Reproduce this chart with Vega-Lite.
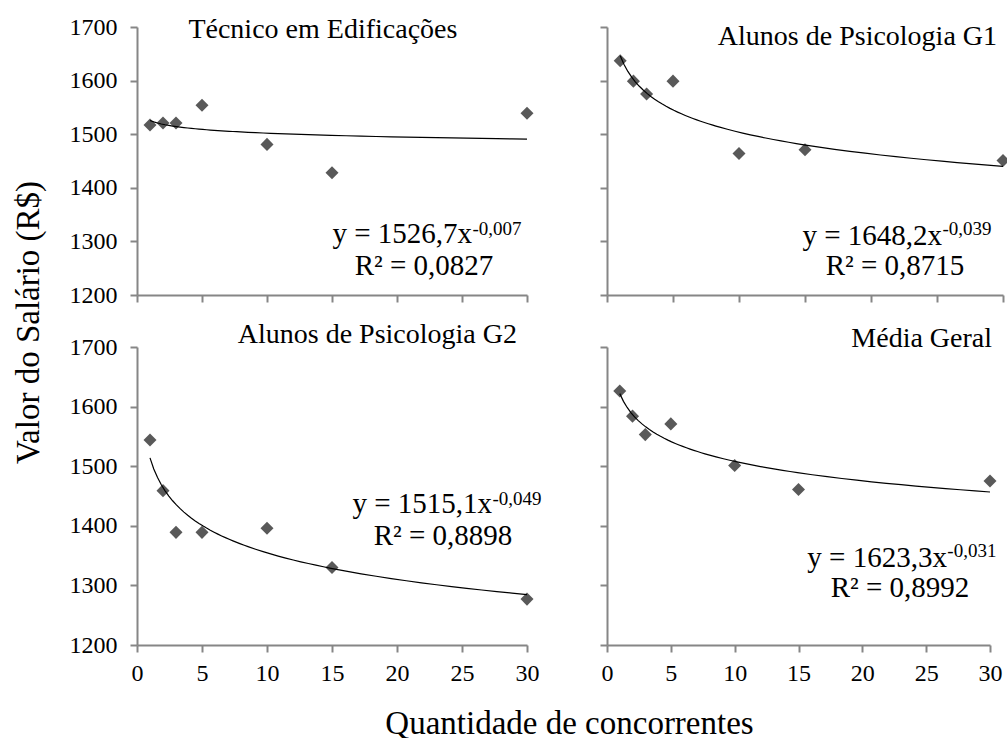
{
  "$schema": "https://vega.github.io/schema/vega-lite/v6.json",
  "background": "white",
  "padding": {"left": 12, "top": 15, "right": 0, "bottom": 0},
  "columns": 2,
  "align": "each",
  "bounds": "flush",
  "spacing": {"row": 52, "column": 80},
  "datasets": {
    "salarios": [
      {"grupo": "TE", "concorrentes": 1, "salario": 1517},
      {"grupo": "TE", "concorrentes": 2, "salario": 1521},
      {"grupo": "TE", "concorrentes": 3, "salario": 1521},
      {"grupo": "TE", "concorrentes": 5, "salario": 1554},
      {"grupo": "TE", "concorrentes": 10, "salario": 1481},
      {"grupo": "TE", "concorrentes": 15, "salario": 1428},
      {"grupo": "TE", "concorrentes": 30, "salario": 1539},
      {"grupo": "G1", "concorrentes": 1, "salario": 1637},
      {"grupo": "G1", "concorrentes": 2, "salario": 1599},
      {"grupo": "G1", "concorrentes": 3, "salario": 1575},
      {"grupo": "G1", "concorrentes": 5, "salario": 1599},
      {"grupo": "G1", "concorrentes": 10, "salario": 1464},
      {"grupo": "G1", "concorrentes": 15, "salario": 1471},
      {"grupo": "G1", "concorrentes": 30, "salario": 1451},
      {"grupo": "G2", "concorrentes": 1, "salario": 1544},
      {"grupo": "G2", "concorrentes": 2, "salario": 1459},
      {"grupo": "G2", "concorrentes": 3, "salario": 1389},
      {"grupo": "G2", "concorrentes": 5, "salario": 1389},
      {"grupo": "G2", "concorrentes": 10, "salario": 1396},
      {"grupo": "G2", "concorrentes": 15, "salario": 1330},
      {"grupo": "G2", "concorrentes": 30, "salario": 1277},
      {"grupo": "MG", "concorrentes": 1, "salario": 1626},
      {"grupo": "MG", "concorrentes": 2, "salario": 1584},
      {"grupo": "MG", "concorrentes": 3, "salario": 1553},
      {"grupo": "MG", "concorrentes": 5, "salario": 1571},
      {"grupo": "MG", "concorrentes": 10, "salario": 1501},
      {"grupo": "MG", "concorrentes": 15, "salario": 1461},
      {"grupo": "MG", "concorrentes": 30, "salario": 1475}
    ]
  },
  "config": {
    "view": {"stroke": null},
    "axis": {
      "grid": false,
      "domainColor": "#868686",
      "domainWidth": 2,
      "tickColor": "#868686",
      "tickWidth": 2,
      "tickSize": 7,
      "labelFont": "Liberation Serif",
      "labelFontSize": 24,
      "labelColor": "#000000",
      "titleFont": "Liberation Serif",
      "titleFontSize": 33,
      "titleFontWeight": "normal",
      "titleColor": "#000000",
      "format": "d"
    },
    "axisX": {"labelPadding": 9, "labelFlush": false},
    "axisY": {"labelPadding": 13},
    "text": {"font": "Liberation Serif", "color": "#000000"}
  },
  "concat": [
    {
      "width": 390,
      "height": 268,
      "layer": [
        {"data": {"name": "salarios"}, "transform": [{"filter": "datum.grupo === 'TE'"}],
         "mark": {"type": "point", "shape": "diamond", "filled": true, "size": 170, "color": "#595959", "opacity": 1},
         "encoding": {
           "x": {"field": "concorrentes", "type": "quantitative", "scale": {"domain": [0, 30], "nice": false},
             "axis": {"values": [0, 5, 10, 15, 20, 25, 30], "labels": false, "title": null}},
           "y": {"field": "salario", "type": "quantitative", "scale": {"domain": [1200, 1700], "nice": false, "zero": false},
             "axis": {"values": [1200, 1300, 1400, 1500, 1600, 1700], "title": "Valor do Salário (R$)",
               "titleX": -109, "titleY": 295, "titleAngle": 270, "titleAlign": "center", "titleBaseline": "middle"}}
         }},
        {"data": {"name": "salarios"}, "transform": [{"filter": "datum.grupo === 'TE'"},
           {"regression": "salario", "on": "concorrentes", "method": "pow", "extent": [1, 30]}],
         "mark": {"type": "line", "color": "#000000", "strokeWidth": 1.2},
         "encoding": {"x": {"field": "concorrentes", "type": "quantitative"}, "y": {"field": "salario", "type": "quantitative"}}},
        {"data": {"values": [{"t": "Técnico em Edificações"}]},
         "mark": {"type": "text", "fontSize": 28, "align": "center", "baseline": "alphabetic"},
         "encoding": {"text": {"field": "t"}, "x": {"datum": 14.3}, "y": {"datum": 1679.5}}},
        {"data": {"values": [{"t": "y = 1526,7x"}]},
         "mark": {"type": "text", "fontSize": 29, "align": "right", "baseline": "alphabetic"},
         "encoding": {"text": {"field": "t"}, "x": {"datum": 25.77}, "y": {"datum": 1297}}},
        {"data": {"values": [{"t": "-0,007"}]},
         "mark": {"type": "text", "fontSize": 19, "align": "left", "baseline": "alphabetic"},
         "encoding": {"text": {"field": "t"}, "x": {"datum": 25.8}, "y": {"datum": 1312}}},
        {"data": {"values": [{"t": "R² = 0,0827"}]},
         "mark": {"type": "text", "fontSize": 29, "align": "center", "baseline": "alphabetic"},
         "encoding": {"text": {"field": "t"}, "x": {"datum": 22.08}, "y": {"datum": 1237.3}}}
      ]
    },
    {
      "width": 396,
      "height": 268,
      "layer": [
        {"data": {"name": "salarios"}, "transform": [{"filter": "datum.grupo === 'G1'"}],
         "mark": {"type": "point", "shape": "diamond", "filled": true, "size": 170, "color": "#595959", "opacity": 1},
         "encoding": {
           "x": {"field": "concorrentes", "type": "quantitative", "scale": {"domain": [0, 30], "nice": false},
             "axis": {"values": [0, 5, 10, 15, 20, 25, 30], "labels": false, "title": null}},
           "y": {"field": "salario", "type": "quantitative", "scale": {"domain": [1200, 1700], "nice": false, "zero": false},
             "axis": {"values": [1200, 1300, 1400, 1500, 1600, 1700], "labels": false, "title": null}}
         }},
        {"data": {"name": "salarios"}, "transform": [{"filter": "datum.grupo === 'G1'"},
           {"regression": "salario", "on": "concorrentes", "method": "pow", "extent": [1, 30]}],
         "mark": {"type": "line", "color": "#000000", "strokeWidth": 1.2},
         "encoding": {"x": {"field": "concorrentes", "type": "quantitative"}, "y": {"field": "salario", "type": "quantitative"}}},
        {"data": {"values": [{"t": "Alunos de Psicologia G1"}]},
         "mark": {"type": "text", "fontSize": 28, "align": "right", "baseline": "alphabetic"},
         "encoding": {"text": {"field": "t"}, "x": {"datum": 29.55}, "y": {"datum": 1666.4}}},
        {"data": {"values": [{"t": "y = 1648,2x"}]},
         "mark": {"type": "text", "fontSize": 29, "align": "right", "baseline": "alphabetic"},
         "encoding": {"text": {"field": "t"}, "x": {"datum": 25.38}, "y": {"datum": 1293.3}}},
        {"data": {"values": [{"t": "-0,039"}]},
         "mark": {"type": "text", "fontSize": 19, "align": "left", "baseline": "alphabetic"},
         "encoding": {"text": {"field": "t"}, "x": {"datum": 25.41}, "y": {"datum": 1312}}},
        {"data": {"values": [{"t": "R² = 0,8715"}]},
         "mark": {"type": "text", "fontSize": 29, "align": "center", "baseline": "alphabetic"},
         "encoding": {"text": {"field": "t"}, "x": {"datum": 21.82}, "y": {"datum": 1237.3}}}
      ]
    },
    {
      "width": 390,
      "height": 298,
      "layer": [
        {"data": {"name": "salarios"}, "transform": [{"filter": "datum.grupo === 'G2'"}],
         "mark": {"type": "point", "shape": "diamond", "filled": true, "size": 170, "color": "#595959", "opacity": 1},
         "encoding": {
           "x": {"field": "concorrentes", "type": "quantitative", "scale": {"domain": [0, 30], "nice": false},
             "axis": {"values": [0, 5, 10, 15, 20, 25, 30], "title": "Quantidade de concorrentes",
               "titleX": 432, "titleY": 88, "titleAlign": "center", "titleBaseline": "alphabetic"}},
           "y": {"field": "salario", "type": "quantitative", "scale": {"domain": [1200, 1700], "nice": false, "zero": false},
             "axis": {"values": [1200, 1300, 1400, 1500, 1600, 1700], "title": null}}
         }},
        {"data": {"name": "salarios"}, "transform": [{"filter": "datum.grupo === 'G2'"},
           {"regression": "salario", "on": "concorrentes", "method": "pow", "extent": [1, 30]}],
         "mark": {"type": "line", "color": "#000000", "strokeWidth": 1.2},
         "encoding": {"x": {"field": "concorrentes", "type": "quantitative"}, "y": {"field": "salario", "type": "quantitative"}}},
        {"data": {"values": [{"t": "Alunos de Psicologia G2"}]},
         "mark": {"type": "text", "fontSize": 28, "align": "right", "baseline": "alphabetic"},
         "encoding": {"text": {"field": "t"}, "x": {"datum": 29.23}, "y": {"datum": 1706.7}}},
        {"data": {"values": [{"t": "y = 1515,1x"}]},
         "mark": {"type": "text", "fontSize": 29, "align": "right", "baseline": "alphabetic"},
         "encoding": {"text": {"field": "t"}, "x": {"datum": 27.31}, "y": {"datum": 1421.5}}},
        {"data": {"values": [{"t": "-0,049"}]},
         "mark": {"type": "text", "fontSize": 19, "align": "left", "baseline": "alphabetic"},
         "encoding": {"text": {"field": "t"}, "x": {"datum": 27.34}, "y": {"datum": 1434.9}}},
        {"data": {"values": [{"t": "R² = 0,8898"}]},
         "mark": {"type": "text", "fontSize": 29, "align": "center", "baseline": "alphabetic"},
         "encoding": {"text": {"field": "t"}, "x": {"datum": 23.54}, "y": {"datum": 1367.8}}}
      ]
    },
    {
      "width": 383,
      "height": 298,
      "layer": [
        {"data": {"name": "salarios"}, "transform": [{"filter": "datum.grupo === 'MG'"}],
         "mark": {"type": "point", "shape": "diamond", "filled": true, "size": 170, "color": "#595959", "opacity": 1},
         "encoding": {
           "x": {"field": "concorrentes", "type": "quantitative", "scale": {"domain": [0, 30], "nice": false},
             "axis": {"values": [0, 5, 10, 15, 20, 25, 30], "title": null}},
           "y": {"field": "salario", "type": "quantitative", "scale": {"domain": [1200, 1700], "nice": false, "zero": false},
             "axis": {"values": [1200, 1300, 1400, 1500, 1600, 1700], "labels": false, "title": null}}
         }},
        {"data": {"name": "salarios"}, "transform": [{"filter": "datum.grupo === 'MG'"},
           {"regression": "salario", "on": "concorrentes", "method": "pow", "extent": [1, 30]}],
         "mark": {"type": "line", "color": "#000000", "strokeWidth": 1.2},
         "encoding": {"x": {"field": "concorrentes", "type": "quantitative"}, "y": {"field": "salario", "type": "quantitative"}}},
        {"data": {"values": [{"t": "Média Geral"}]},
         "mark": {"type": "text", "fontSize": 28, "align": "right", "baseline": "alphabetic"},
         "encoding": {"text": {"field": "t"}, "x": {"datum": 30.16}, "y": {"datum": 1700}}},
        {"data": {"values": [{"t": "y = 1623,3x"}]},
         "mark": {"type": "text", "fontSize": 29, "align": "right", "baseline": "alphabetic"},
         "encoding": {"text": {"field": "t"}, "x": {"datum": 26.63}, "y": {"datum": 1330.9}}},
        {"data": {"values": [{"t": "-0,031"}]},
         "mark": {"type": "text", "fontSize": 19, "align": "left", "baseline": "alphabetic"},
         "encoding": {"text": {"field": "t"}, "x": {"datum": 26.66}, "y": {"datum": 1347.7}}},
        {"data": {"values": [{"t": "R² = 0,8992"}]},
         "mark": {"type": "text", "fontSize": 29, "align": "center", "baseline": "alphabetic"},
         "encoding": {"text": {"field": "t"}, "x": {"datum": 22.95}, "y": {"datum": 1280.5}}}
      ]
    }
  ]
}
